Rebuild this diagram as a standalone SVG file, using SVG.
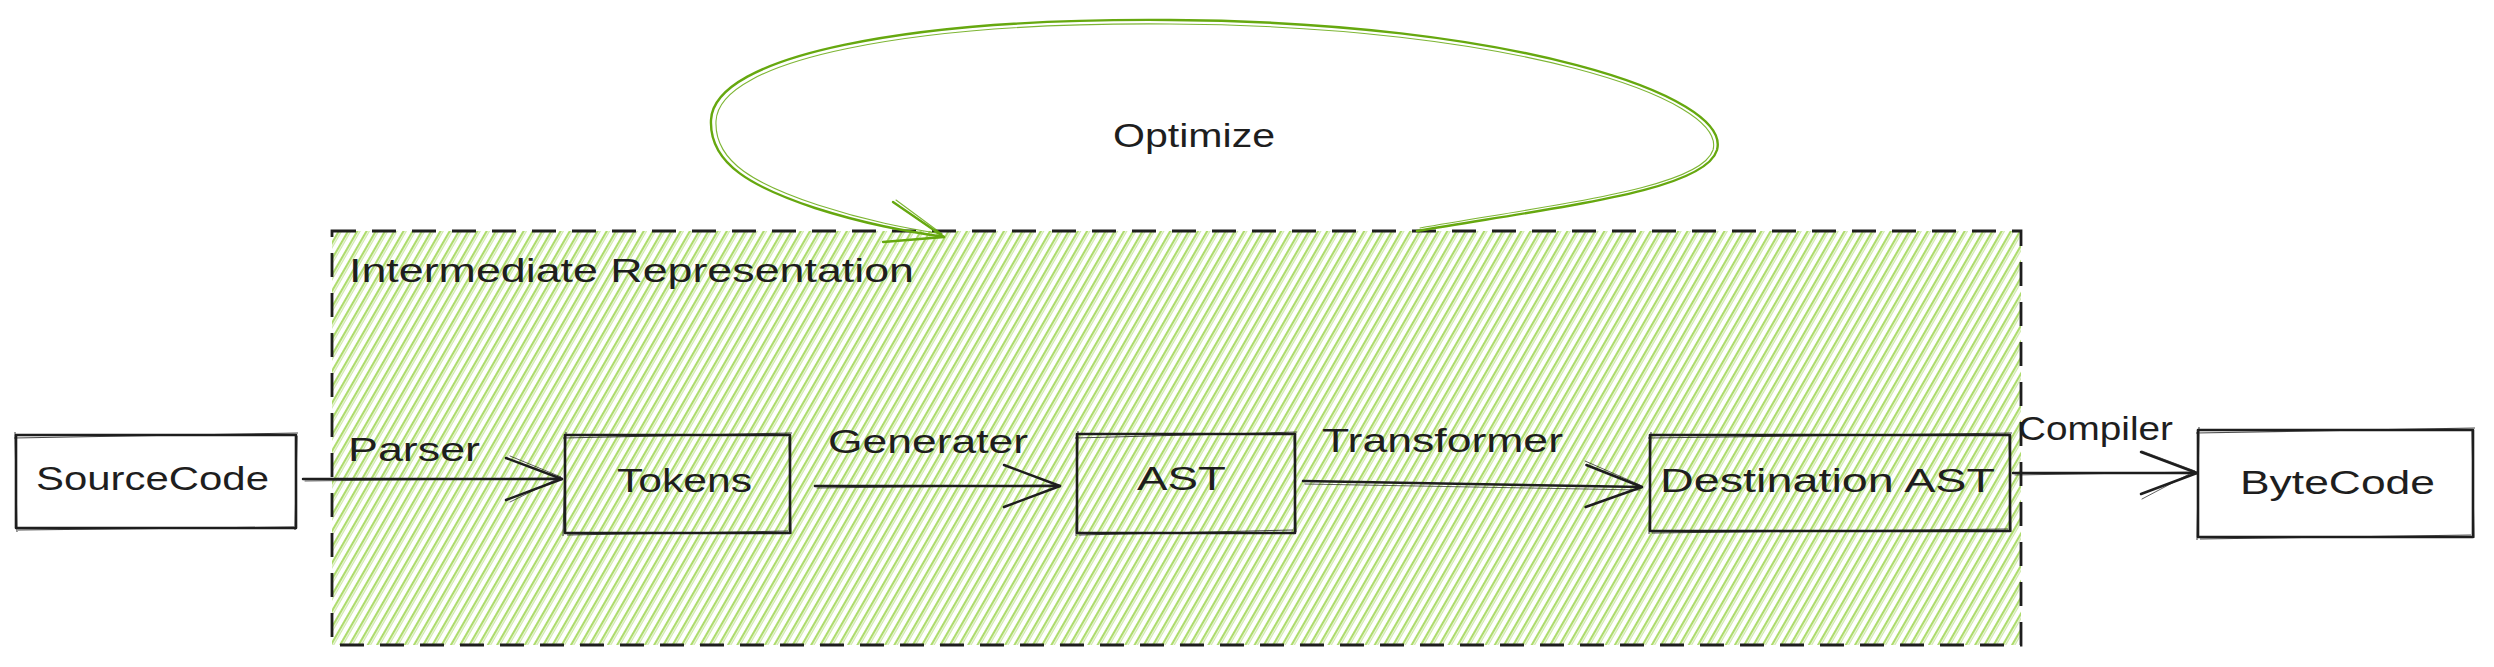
<svg xmlns="http://www.w3.org/2000/svg" width="2494" height="667" viewBox="0 0 2494 667">
  <defs>
    <pattern id="hatch" patternUnits="userSpaceOnUse" width="8" height="8" patternTransform="rotate(30)">
      <line x1="1" y1="-1" x2="1" y2="9" stroke="#82c91e" stroke-width="1.3"/>
      <line x1="3.2" y1="-1" x2="3.2" y2="9" stroke="#82c91e" stroke-width="0.8" opacity="0.7"/>
    </pattern>
    <marker id="head" markerUnits="userSpaceOnUse" viewBox="-62 -26 66 52" refX="0" refY="0" markerWidth="66" markerHeight="52" orient="auto" overflow="visible">
      <path d="M -56 -21 L 0 0 L -56 21" fill="none" stroke="#1e1e1e" stroke-width="2.5" stroke-linecap="round" stroke-linejoin="round"/>
    </marker>
    <style>
      .box { fill: none; stroke: #1e1e1e; stroke-width: 2.6; stroke-linejoin: round; }
      .sketch { fill: none; stroke: #1e1e1e; stroke-width: 1.1; opacity: 0.8; }
      .edge { fill: none; stroke: #1e1e1e; stroke-width: 2.5; stroke-linecap: round; }
      .edge2 { fill: none; stroke: #1e1e1e; stroke-width: 1; opacity: 0.7; stroke-linecap: round; }
      .txt { font-family: "Liberation Sans", "DejaVu Sans", sans-serif; font-size: 34px; fill: #1e1e1e; }
      .loop { fill: none; stroke: #66a80f; stroke-width: 2.4; stroke-linecap: round; stroke-linejoin: round; }
      .loop2 { fill: none; stroke: #66a80f; stroke-width: 1.1; stroke-linecap: round; opacity: 0.85; }
    </style>
  </defs>
  <rect width="2494" height="667" fill="#ffffff"/>

  <g id="intermediate-representation">
    <rect x="332" y="231" width="1689" height="414" fill="url(#hatch)" stroke="none"/>
    <rect x="332" y="231" width="1689" height="414" fill="none" stroke="#1e1e1e" stroke-width="2.8" stroke-dasharray="24 16"/>
    <text class="txt" x="349" y="282" textLength="565" lengthAdjust="spacingAndGlyphs">Intermediate Representation</text>
  </g>

  <g id="source-code">
    <rect class="box" x="16" y="435" width="280" height="93" fill="#ffffff"/>
    <path class="sketch" d="M 14 438 L 298 433 M 18 530 L 294 527 M 15 432 L 17 532 M 297 436 L 295 530"/>
    <text class="txt" x="36" y="490" textLength="233" lengthAdjust="spacingAndGlyphs">SourceCode</text>
  </g>

  <g id="tokens">
    <rect class="box" x="565" y="435" width="225" height="98"/>
    <path class="sketch" d="M 563 438 L 792 433 M 567 535 L 788 531 M 566 432 L 563 536 M 789 437 L 791 534"/>
    <text class="txt" x="617" y="492" textLength="135" lengthAdjust="spacingAndGlyphs">Tokens</text>
  </g>

  <g id="ast">
    <rect class="box" x="1077" y="434" width="218" height="99"/>
    <path class="sketch" d="M 1075 438 L 1297 432 M 1079 535 L 1293 530 M 1078 431 L 1076 536 M 1294 436 L 1296 532"/>
    <text class="txt" x="1137" y="490" textLength="89" lengthAdjust="spacingAndGlyphs">AST</text>
  </g>

  <g id="destination-ast">
    <rect class="box" x="1650" y="435" width="360" height="96"/>
    <path class="sketch" d="M 1648 438 L 2012 433 M 1652 533 L 2008 529 M 1651 432 L 1649 534 M 2009 436 L 2011 532"/>
    <text class="txt" x="1660" y="492" textLength="335" lengthAdjust="spacingAndGlyphs">Destination AST</text>
  </g>

  <g id="byte-code">
    <rect class="box" x="2198" y="430" width="275" height="107" fill="#ffffff"/>
    <path class="sketch" d="M 2196 433 L 2475 428 M 2200 539 L 2471 535 M 2199 427 L 2197 540 M 2472 431 L 2474 538"/>
    <text class="txt" x="2240" y="494" textLength="195" lengthAdjust="spacingAndGlyphs">ByteCode</text>
  </g>

  <g id="connectors">
    <g id="edge-parser">
      <path class="edge" d="M 303 479 L 562 479" marker-end="url(#head)"/>
      <path class="edge2" d="M 305 481 L 560 478 M 510 456 L 561 477 L 510 502"/>
      <text class="txt" x="348" y="461" textLength="132" lengthAdjust="spacingAndGlyphs">Parser</text>
    </g>
    <g id="edge-generater">
      <path class="edge" d="M 815 486 L 1060 486" marker-end="url(#head)"/>
      <path class="edge2" d="M 817 488 L 1058 485"/>
      <text class="txt" x="828" y="453" textLength="200" lengthAdjust="spacingAndGlyphs">Generater</text>
    </g>
    <g id="edge-transformer">
      <path class="edge" d="M 1303 481 L 1642 487" marker-end="url(#head)"/>
      <path class="edge2" d="M 1305 484 L 1640 490 M 1585 461 L 1640 485"/>
      <text class="txt" x="1322" y="452" textLength="241" lengthAdjust="spacingAndGlyphs">Transformer</text>
    </g>
    <g id="edge-compiler">
      <path class="edge" d="M 2013 473 L 2197 473" marker-end="url(#head)"/>
      <path class="edge2" d="M 2015 475 L 2195 472 M 2142 451 L 2195 471 L 2142 499"/>
      <text class="txt" x="2018" y="440" textLength="155" lengthAdjust="spacingAndGlyphs">Compiler</text>
    </g>
    <g id="edge-optimize">
      <path class="loop" d="M 1417 231 C 1570 205, 1705 190, 1717 150 C 1732 95, 1510 22, 1170 20 C 910 18, 714 55, 711 120 C 709 165, 755 188, 815 208 C 865 224, 905 231, 944 237"/>
      <path class="loop2" d="M 1420 228 C 1570 202, 1701 187, 1713 150 C 1727 98, 1510 26, 1170 24 C 912 22, 719 59, 716 121 C 714 163, 758 185, 818 205 C 867 221, 905 228, 942 234"/>
      <path class="loop" d="M 893 202 L 944 237 L 883 242"/>
      <path class="loop2" d="M 896 200 L 942 234"/>
      <text class="txt" x="1113" y="147" font-size="31" textLength="162" lengthAdjust="spacingAndGlyphs">Optimize</text>
    </g>
  </g>
</svg>
